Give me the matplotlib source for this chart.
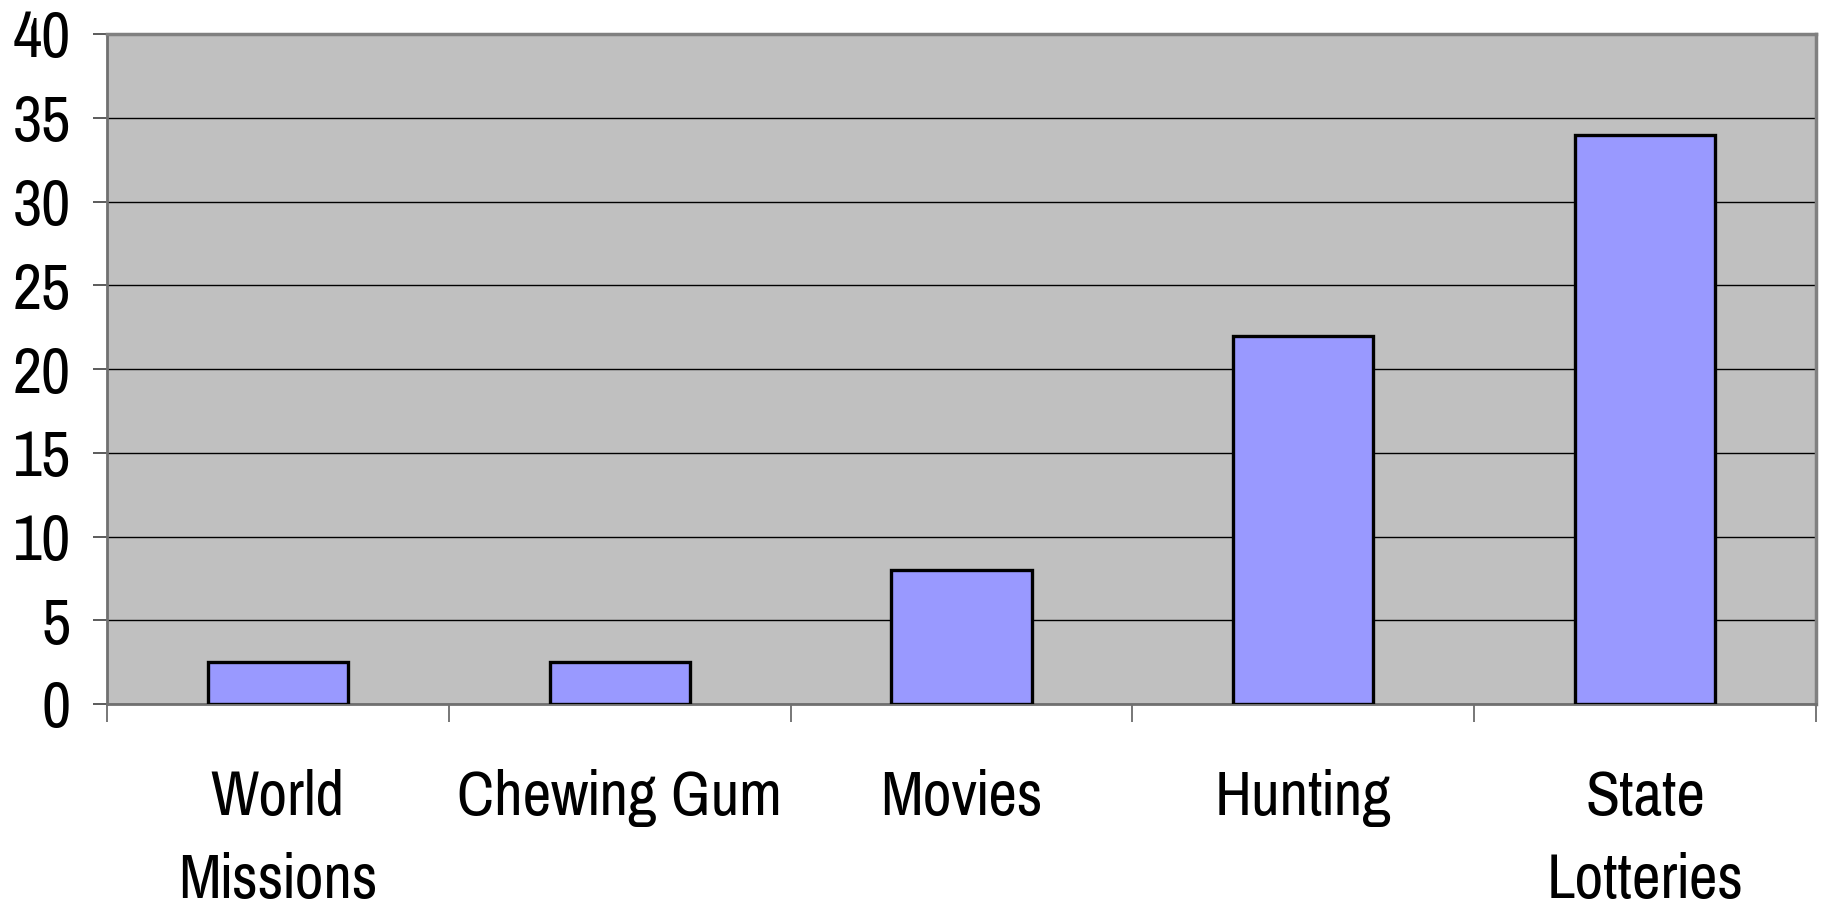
import numpy as np
import matplotlib
matplotlib.use("Agg")
import matplotlib.pyplot as plt

categories = ["World\nMissions", "Chewing Gum", "Movies", "Hunting", "State\nLotteries"]
values = [2.5, 2.5, 8, 22, 34]
yticks = [0, 5, 10, 15, 20, 25, 30, 35, 40]

plt.rcParams['font.family'] = ['Pragati Narrow', 'Archivo Narrow', 'DejaVu Sans']
plt.rcParams['font.stretch'] = 'condensed'

fig = plt.figure(figsize=(18.35, 9.14), dpi=100)
ax = fig.add_axes([107 / 1835, 1 - 704 / 914, (1816 - 107) / 1835, (704 - 34) / 914])
ax.set_facecolor("#c0c0c0")

x = np.arange(len(categories))
ax.bar(x, values, width=0.41, color="#9999ff", edgecolor="black", linewidth=2.4, zorder=3)

ax.set_xlim(-0.5, len(categories) - 0.5)
ax.set_ylim(0, 40)
ax.set_yticks(yticks)
ax.set_yticklabels([str(v) for v in yticks], fontsize=50)
ax.yaxis.grid(True, color="black", linewidth=1.0, zorder=0)
ax.set_axisbelow(True)

# boundaries as major ticks, category names as minor ticks
ax.set_xticks(np.arange(-0.5, len(categories), 1.0))
ax.set_xticklabels([])
ax.set_xticks(x, minor=True)
ax.set_xticklabels(categories, minor=True, fontsize=49, linespacing=1.55)
ax.tick_params(axis="x", which="minor", length=0, pad=47)
ax.tick_params(axis="x", which="major", length=13, width=1.2, color="#606060")
ax.tick_params(axis="y", length=10, width=1.2, color="#404040", pad=16)

for side in ["top", "right"]:
    ax.spines[side].set_color("#808080")
    ax.spines[side].set_linewidth(2.5)
for side in ["left", "bottom"]:
    ax.spines[side].set_color("#707070")
    ax.spines[side].set_linewidth(2.0)

fig.savefig("out.png", dpi=100)
